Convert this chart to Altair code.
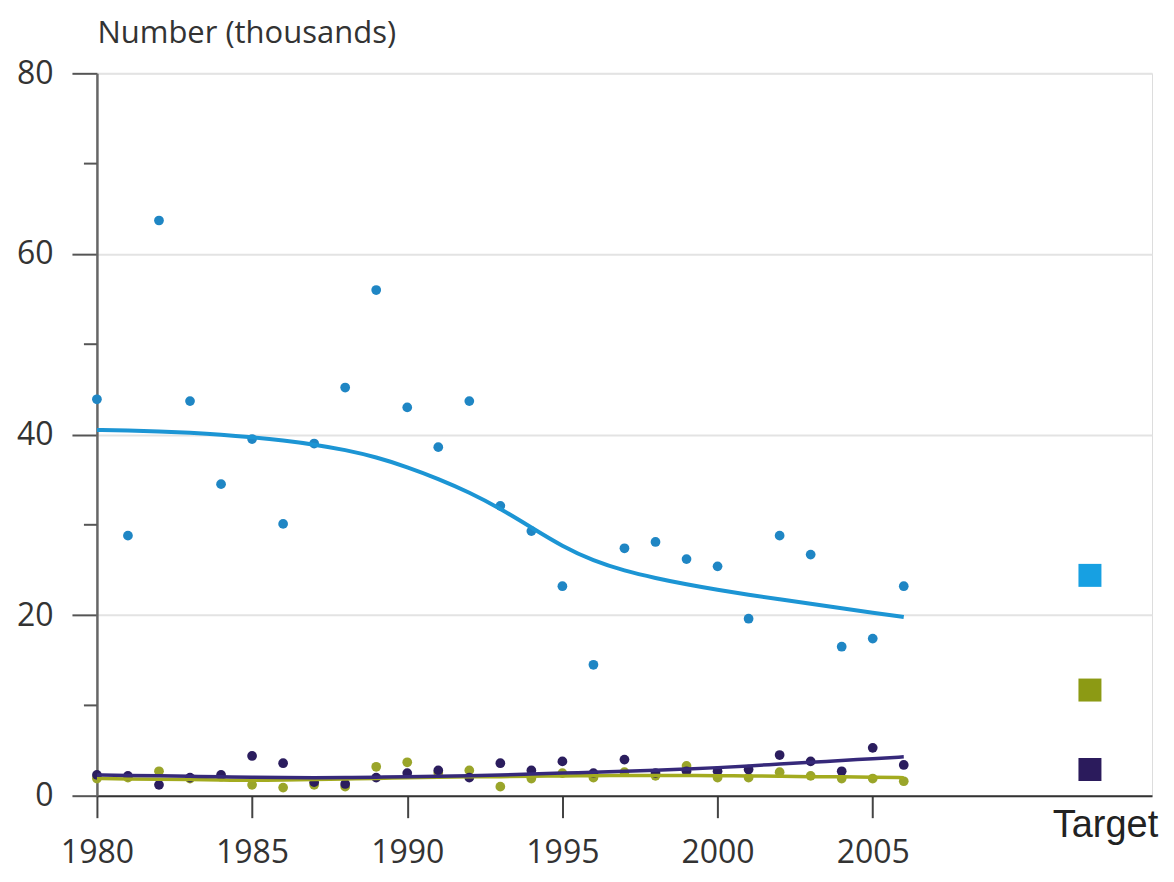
import altair as alt
import pandas as pd

years = list(range(1980, 2007))

blue_points = [43.9, 28.8, 63.7, 43.7, 34.5, 39.5, 30.1, 39.0, 45.2, 56.0,
               43.0, 38.6, 43.7, 32.1, 29.3, 23.2, 14.5, 27.4, 28.1, 26.2,
               25.4, 19.6, 28.8, 26.7, 16.5, 17.4, 23.2]
green_points = [1.9, 2.0, 2.7, 1.9, 2.1, 1.2, 0.9, 1.2, 1.0, 3.2,
                3.7, 2.5, 2.8, 1.0, 1.9, 2.5, 2.0, 2.6, 2.2, 3.3,
                2.0, 2.0, 2.6, 2.2, 1.9, 1.9, 1.6]
purple_points = [2.3, 2.2, 1.2, 2.0, 2.3, 4.4, 3.6, 1.5, 1.3, 2.0,
                 2.5, 2.8, 2.0, 3.6, 2.8, 3.8, 2.5, 4.0, 2.5, 2.7,
                 2.7, 2.9, 4.5, 3.8, 2.7, 5.3, 3.4]

blue_trend = [40.5, 40.45, 40.35, 40.2, 40.0, 39.7, 39.35, 38.9, 38.3, 37.5,
              36.4, 35.1, 33.6, 31.8, 29.7, 27.6, 26.0, 24.9, 24.1, 23.4,
              22.8, 22.25, 21.75, 21.25, 20.75, 20.25, 19.8]
green_trend = [1.9, 1.85, 1.8, 1.8, 1.75, 1.7, 1.75, 1.8, 1.85, 1.9,
               2.0, 2.05, 2.1, 2.1, 2.15, 2.2, 2.2, 2.25, 2.25, 2.25,
               2.2, 2.2, 2.15, 2.1, 2.1, 2.05, 2.0]
purple_trend = [2.3, 2.25, 2.2, 2.15, 2.1, 2.05, 2.0, 2.0, 2.0, 2.05,
                2.1, 2.15, 2.2, 2.3, 2.4, 2.5, 2.6, 2.7, 2.8, 2.95,
                3.1, 3.3, 3.5, 3.7, 3.9, 4.1, 4.3]

series = ["blue", "green", "purple"]
target_year = 2012
target_values = [24.4, 11.7, 2.9]

x_ticks = [1980, 1985, 1990, 1995, 2000, 2005]
y_major = [0, 20, 40, 60, 80]
y_minor = [10, 30, 50, 70]

dot_colors = ["#1f86c4", "#9aa52a", "#2b1d5e"]
line_colors = ["#1c95d4", "#a3ab1f", "#36297a"]
square_colors = ["#17a0e2", "#8c9a14", "#2b1b5c"]

pts = pd.DataFrame({
    "year": years * 3,
    "value": blue_points + green_points + purple_points,
    "series": ["blue"] * 27 + ["green"] * 27 + ["purple"] * 27,
})
trend = pd.DataFrame({
    "year": years * 3,
    "value": blue_trend + green_trend + purple_trend,
    "series": ["blue"] * 27 + ["green"] * 27 + ["purple"] * 27,
})
targets = pd.DataFrame({"year": [target_year] * 3, "value": target_values, "series": series})
minor = pd.DataFrame({"v": y_minor})

W, H = 1056, 723
FONT = "Open Sans"
TXT = "#333333"

xscale = alt.Scale(domain=[1980, 2014], nice=False, zero=False)
yscale = alt.Scale(domain=[0, 80], nice=False)

x_axis = alt.Axis(values=x_ticks, format="d", grid=False, title=None,
                  labelFont=FONT, labelFontSize=32, labelColor=TXT,
                  labelFlush=False, labelOverlap=False,
                  tickSize=22, tickWidth=2, tickColor="#444",
                  domainColor="#333", domainWidth=2,
                  labelPadding=20, labelBaseline="top")
y_axis = alt.Axis(values=y_major, grid=True, gridColor="#e3e3e3", gridWidth=2,
                  labelFont=FONT, labelFontSize=32, labelColor=TXT,
                  labelFlush=False, labelOverlap=False,
                  tickSize=25, tickWidth=2, tickColor="#555",
                  domainColor="#666", domainWidth=2.5,
                  labelPadding=19,
                  title="Number (thousands)", titleAngle=0, titleAlign="left",
                  titleBaseline="alphabetic", titleX=0, titleY=-31,
                  titleFont=FONT, titleFontSize=31, titleFontWeight="normal",
                  titleColor=TXT)

dots = alt.Chart(pts).mark_circle(size=95, opacity=1).encode(
    x=alt.X("year:Q", scale=xscale, axis=x_axis),
    y=alt.Y("value:Q", scale=yscale, axis=y_axis),
    color=alt.Color("series:N", scale=alt.Scale(domain=series, range=dot_colors), legend=None),
)

lines = alt.Chart(trend).mark_line(interpolate="basis").encode(
    x=alt.X("year:Q", scale=xscale),
    y=alt.Y("value:Q", scale=yscale),
    color=alt.Color("series:N", scale=alt.Scale(domain=series, range=line_colors), legend=None),
    strokeWidth=alt.condition(alt.datum.series == "blue", alt.value(4), alt.value(3.5)),
    order=alt.Order("series:N"),
)

squares = alt.Chart(targets).mark_square(size=529, opacity=1, filled=True).encode(
    x=alt.X("year:Q", scale=xscale),
    y=alt.Y("value:Q", scale=yscale),
    fill=alt.Fill("series:N", scale=alt.Scale(domain=series, range=square_colors), legend=None),
)

minor_ticks = alt.Chart(minor).mark_rule(color="#555", strokeWidth=2).encode(
    y=alt.Y("v:Q", scale=yscale),
    x=alt.value(-13),
    x2=alt.value(0),
)

target_label = alt.Chart(pd.DataFrame({"year": [2012.5], "label": ["Target"]})).mark_text(
    font="Liberation Sans", fontSize=38, align="center", baseline="alphabetic", color="#222"
).encode(
    x=alt.X("year:Q", scale=xscale),
    y=alt.value(764),
    text="label:N",
)

chart = alt.layer(dots, lines, squares, minor_ticks, target_label).resolve_scale(
    color="independent"
).properties(
    width=W, height=H,
    autosize=alt.AutoSizeParams(type="none"),
    padding={"left": 89, "top": 65, "right": 14, "bottom": 80},
).configure_view(stroke=None).configure(background="white")

chart.save("out.html", embed_options={"renderer": "svg", "actions": False})
